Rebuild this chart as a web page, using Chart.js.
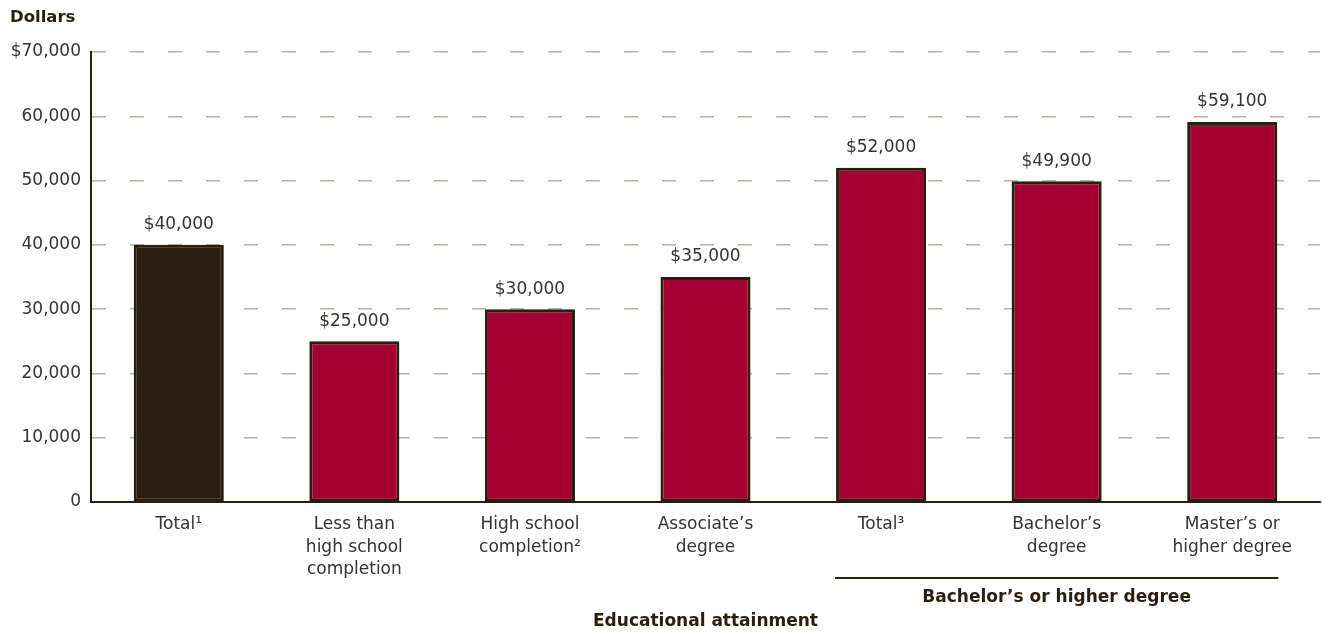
<!DOCTYPE html>
<html>
<head>
<meta charset="utf-8">
<script src="https://cdn.jsdelivr.net/npm/chart.js@4/dist/chart.umd.min.js"></script>
<style>
html,body{margin:0;padding:0;background:#fff;}
#wrap{width:1323px;height:633px;position:relative;}
</style>
</head>
<body>
<div id="wrap"><canvas id="c" width="1323" height="633"></canvas></div>
<script>
const categories = [
  ["Total\u00B9"],
  ["Less than", "high school", "completion"],
  ["High school", "completion\u00B2"],
  ["Associate\u2019s", "degree"],
  ["Total\u00B3"],
  ["Bachelor\u2019s", "degree"],
  ["Master\u2019s or", "higher degree"]
];
const values = [40000, 25000, 30000, 35000, 52000, 49900, 59100];
const valueLabels = ["$40,000", "$25,000", "$30,000", "$35,000", "$52,000", "$49,900", "$59,100"];
const yTickLabels = ["0", "10,000", "20,000", "30,000", "40,000", "50,000", "60,000", "$70,000"];
const yAxisTitle = "Dollars";
const xAxisTitle = "Educational attainment";
const groupTitle = "Bachelor\u2019s or higher degree";
const groupStart = 4, groupEnd = 6;

const FONT = "'DejaVu Sans', sans-serif";
const DARK = "#2a1e0c";
const RED = "#a50034";
const TEXT = "#333333";

const overlay = {
  id: 'overlay',
  afterDraw(chart) {
    const ctx = chart.ctx;
    const meta = chart.getDatasetMeta(0);
    ctx.save();
    // data labels
    ctx.font = "17px " + FONT;
    ctx.fillStyle = TEXT;
    ctx.textAlign = "center";
    ctx.textBaseline = "middle";
    meta.data.forEach((bar, i) => {
      ctx.fillText(valueLabels[i], bar.x, bar.y - 20);
    });
    // y title
    ctx.font = "bold 16.5px " + FONT;
    ctx.fillStyle = DARK;
    ctx.textAlign = "left";
    ctx.fillText(yAxisTitle, 10, 18);
    // group bracket
    const b0 = meta.data[groupStart], b1 = meta.data[groupEnd];
    const left = b0.x - b0.width / 2 - 1, right = b1.x + b1.width / 2 + 1;
    ctx.strokeStyle = DARK;
    ctx.lineWidth = 2;
    ctx.beginPath();
    ctx.moveTo(left, 578);
    ctx.lineTo(right, 578);
    ctx.stroke();
    ctx.font = "bold 17px " + FONT;
    ctx.textAlign = "center";
    ctx.fillText(groupTitle, (left + right) / 2, 598);
    // x title
    ctx.fillText(xAxisTitle, (chart.chartArea.left + chart.chartArea.right) / 2, 622);
    ctx.restore();
  }
};

new Chart(document.getElementById('c'), {
  type: 'bar',
  data: {
    labels: categories,
    datasets: [{
      data: values,
      backgroundColor: values.map((v, i) => i === 0 ? DARK : RED),
      borderColor: DARK,
      borderWidth: 3,
      borderSkipped: false,
      barPercentage: 0.513,
      categoryPercentage: 1.0
    }]
  },
  options: {
    responsive: false,
    animation: false,
    devicePixelRatio: 1,
    layout: { padding: { top: 52, right: 3, bottom: 0, left: 0 } },
    plugins: { legend: { display: false }, tooltip: { enabled: false } },
    scales: {
      x: {
        z: 1,
        grid: { display: false, drawTicks: false },
        border: { display: true, color: DARK, width: 2 },
        ticks: {
          color: TEXT,
          font: { family: FONT, size: 17, lineHeight: 1.3 },
          padding: 12,
          maxRotation: 0,
          autoSkip: false
        },
        afterFit(s) { s.height = 131; }
      },
      y: {
        min: 0,
        max: 70000,
        ticks: {
          stepSize: 10000,
          color: TEXT,
          font: { family: FONT, size: 17 },
          padding: 10,
          callback: (v) => yTickLabels[Math.round(v / 10000)]
        },
        grid: { color: "#bab2a4", lineWidth: 1.5, drawTicks: false },
        border: { display: true, color: DARK, width: 2, dash: [14, 24], dashOffset: 0 },
        afterFit(s) { s.width = 91; }
      }
    }
  },
  plugins: [overlay]
});
</script>
</body>
</html>
